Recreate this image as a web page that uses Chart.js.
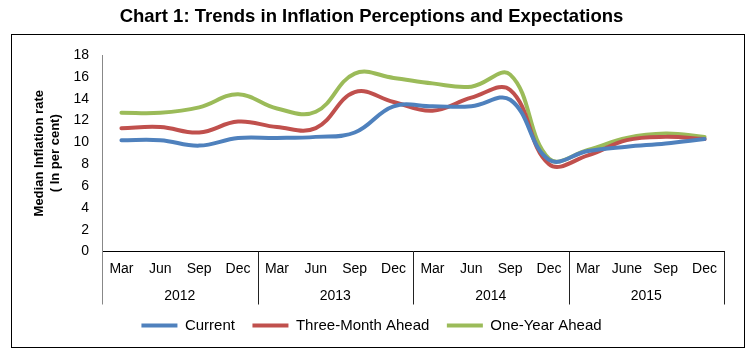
<!DOCTYPE html>
<html><head><meta charset="utf-8">
<script src="https://cdn.jsdelivr.net/npm/chart.js@4/dist/chart.umd.min.js"></script>
<style>html,body{margin:0;padding:0;background:#fff;}</style>
</head><body>
<canvas id="c" width="752" height="355"></canvas>
<script>
const months = ['Mar','Jun','Sep','Dec','Mar','Jun','Sep','Dec','Mar','Jun','Sep','Dec','Mar','June','Sep','Dec'];
const years = ['2012','2013','2014','2015'];
const current = [10.2,10.2,9.7,10.4,10.4,10.5,10.9,13.3,13.3,13.3,13.9,8.4,9.2,9.6,9.9,10.3];
const threeMonth = [11.3,11.4,10.9,11.9,11.4,11.3,14.6,13.7,12.9,14.1,14.8,8.0,8.8,10.2,10.5,10.3];
const oneYear = [12.7,12.7,13.2,14.4,13.1,12.8,16.3,15.9,15.4,15.1,16.2,8.5,9.3,10.4,10.8,10.5];
const seriesNames = ['Current','Three-Month Ahead','One-Year Ahead'];
const colors = ['#4F81BD','#C0504D','#9BBB59'];

const FONT = "'Liberation Sans', Arial, sans-serif";

const decor = {
  id: 'decor',
  beforeDraw(chart) {
    const ctx = chart.ctx;
    ctx.save();
    ctx.fillStyle = '#fff';
    ctx.fillRect(0, 0, chart.width, chart.height);
    ctx.restore();
  },
  afterDraw(chart) {
    const ctx = chart.ctx;
    const x = chart.scales.x, ca = chart.chartArea;
    ctx.save();
    ctx.strokeStyle = '#000';
    ctx.lineWidth = 1;
    ctx.strokeRect(11.5, 34.5, 733, 313);
    const half = (x.getPixelForValue(1) - x.getPixelForValue(0)) / 2;
    for (let g = 0; g <= years.length; g++) {
      const idx = Math.min(g * 4, months.length - 1);
      let px = g === years.length ? x.getPixelForValue(months.length - 1) + half : x.getPixelForValue(idx) - half;
      px = Math.round(px) + 0.5;
      ctx.strokeStyle = (g === 0) ? '#888' : '#222';
      ctx.beginPath();
      ctx.moveTo(px, ca.bottom);
      ctx.lineTo(px, x.bottom + 17);
      ctx.stroke();
    }
    ctx.restore();
  }
};

const mk = (i, data) => ({
  label: seriesNames[i],
  data: data,
  borderColor: colors[i],
  backgroundColor: colors[i],
  borderWidth: 4,
  pointRadius: 0,
  pointHoverRadius: 0,
  tension: 0.4,
  fill: false,
  borderCapStyle: 'round',
  borderJoinStyle: 'round'
});

new Chart(document.getElementById('c'), {
  type: 'line',
  data: {
    labels: months,
    datasets: [mk(0, current), mk(1, threeMonth), mk(2, oneYear)]
  },
  plugins: [decor],
  options: {
    responsive: false,
    animation: false,
    devicePixelRatio: 1,
    layout: { padding: { left: 19, right: 28, top: 0, bottom: 12 } },
    plugins: {
      title: {
        display: true,
        text: 'Chart 1: Trends in Inflation Perceptions and Expectations',
        font: { family: FONT, size: 18.5, weight: 'bold' },
        color: '#000',
        padding: { top: 6, bottom: 26.8 }
      },
      legend: {
        position: 'bottom',
        labels: {
          usePointStyle: true,
          pointStyle: 'line',
          pointStyleWidth: 36,
          boxHeight: 15,
          font: { family: FONT, size: 15 },
          color: '#000',
          padding: 17.5
        }
      },
      tooltip: { enabled: false }
    },
    scales: {
      x: {
        type: 'category',
        offset: true,
        grid: { display: false, drawTicks: false },
        border: { display: true, color: '#000', width: 1 },
        ticks: { font: { family: FONT, size: 14 }, color: '#000', padding: 9, maxRotation: 0, autoSkip: false },
        afterFit(s) { s.height = 36; }
      },
      x2: {
        type: 'category',
        labels: years,
        position: 'bottom',
        offset: true,
        weight: 1,
        grid: { display: false, drawTicks: false },
        border: { display: false },
        ticks: { font: { family: FONT, size: 14 }, color: '#000', padding: 0, maxRotation: 0, autoSkip: false },
        afterFit(s) { s.height = 13; }
      },
      y: {
        min: 0, max: 18,
        grid: { display: false, drawTicks: false },
        border: { display: true, color: '#888', width: 1 },
        ticks: { stepSize: 2, font: { family: FONT, size: 14 }, color: '#000', padding: 13 },
        title: {
          display: true,
          text: ['Median Inflation rate', '( In per cent)'],
          font: { family: FONT, size: 13, weight: 'bold' },
          color: '#000',
          padding: { top: 13, bottom: 0 }
        },
        afterFit(s) { s.width = 83; }
      }
    }
  }
});
</script>
</body></html>
